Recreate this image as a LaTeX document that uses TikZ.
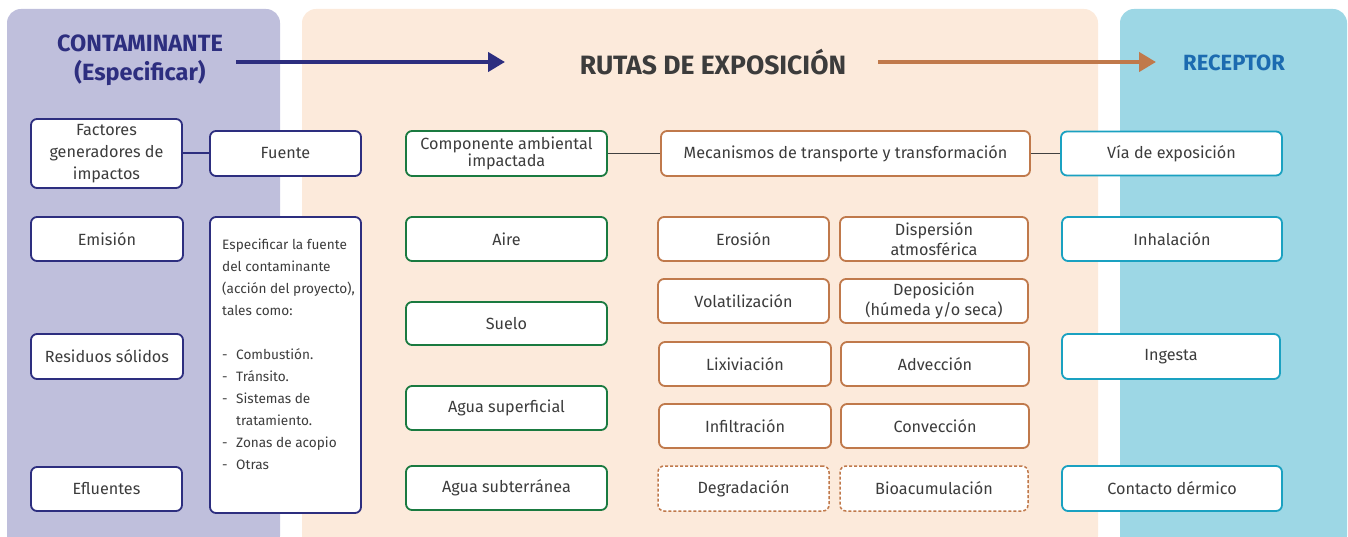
\documentclass[tikz,border=0pt]{standalone}
\usepackage{fontspec}
\setmainfont{Fira Sans}
\usetikzlibrary{arrows.meta}
\definecolor{lav}{HTML}{BFBFDC}
\definecolor{peach}{HTML}{FCEADB}
\definecolor{sky}{HTML}{9DD7E5}
\definecolor{navy}{HTML}{2D2E7F}
\definecolor{grn}{HTML}{1A7A40}
\definecolor{brn}{HTML}{C0794B}
\definecolor{teal}{HTML}{1AA1C1}
\definecolor{txt}{HTML}{3C3C3C}
\definecolor{recblue}{HTML}{1C6BB0}
\definecolor{conn}{HTML}{404040}
\tikzset{
  nbox/.style={draw, rounded corners=6pt, line width=1.8pt, fill=white, align=center,
    text=txt, font=\fontsize{16.2}{20}\selectfont, inner sep=0pt},
  navybox/.style={nbox, draw=navy},
  grnbox/.style={nbox, draw=grn},
  brnbox/.style={nbox, draw=brn},
  brndash/.style={nbox, draw=brn, line width=1.5pt, dash pattern=on 3pt off 2pt},
  tealbox/.style={nbox, draw=teal},
  title/.style={font=\fontsize{23.5}{29}\selectfont\bfseries, align=center, inner sep=0pt},
  bigarrow/.style={line width=4.2pt, -{Triangle[length=17pt,width=19pt]}},
}
\begin{document}
\begin{tikzpicture}[x=1pt,y=-1pt]
\useasboundingbox (0,0) rectangle (1348,537);
\clip (0,0) rectangle (1348,537);
% panels
\fill[lav, rounded corners=14pt] (7,9) rectangle (280,550);
\fill[peach, rounded corners=14pt] (302,9) rectangle (1098,550);
\fill[sky, rounded corners=14pt] (1120,9) rectangle (1347,550);
% titles
\node[title, text=navy] (cont) at (140,60) {CONTAMINANTE\\(Especificar)};
\node[title, text=txt, font=\fontsize{26.5}{30}\selectfont\bfseries] (rutas) at (713,62) {RUTAS DE EXPOSICIÓN};
\node[title, text=recblue, font=\fontsize{22}{26}\selectfont\bfseries] (rec) at (1234,63) {RECEPTOR};
\coordinate (a1s) at (236,62);
\coordinate (a1e) at (505,62);
\coordinate (a2s) at (878,62);
\coordinate (a2e) at (1156,62);
\draw[bigarrow, navy] (a1s) -- (a1e);
\draw[bigarrow, brn] (a2s) -- (a2e);
% left column
\node[navybox, minimum width=151pt, minimum height=69pt, font=\fontsize{16.2}{22}\selectfont] (fact) at (106.5,153.5) {Factores\\generadores de\\impactos};
\node[navybox, minimum width=151pt, minimum height=45pt] (fuente) at (285.5,153.5) {Fuente};
\node[navybox, minimum width=152pt, minimum height=44pt] (emi) at (107,239) {Emisión};
\node[navybox, minimum width=152pt, minimum height=45pt] (res) at (107,356.5) {Residuos sólidos};
\node[navybox, minimum width=151pt, minimum height=44pt] (efl) at (106.5,489) {Efluentes};
\node[navybox, minimum width=151pt, minimum height=296pt] (esp) at (285.5,365) {};
\node[anchor=north west, align=left, inner sep=0pt, text=txt, font=\fontsize{13.6}{22}\selectfont] (esptxt) at (222,239)
 {Especificar la fuente\\
  del contaminante\\
  (acción del proyecto),\\
  tales como:\\[22pt]
  \makebox[14pt][l]{-}Combustión.\\
  \makebox[14pt][l]{-}Tránsito.\\
  \makebox[14pt][l]{-}Sistemas de\\
  \hspace*{14pt}tratamiento.\\
  \makebox[14pt][l]{-}Zonas de acopio\\
  \makebox[14pt][l]{-}Otras};
% middle column
\node[grnbox, minimum width=201pt, minimum height=45pt] (comp) at (506.5,153.5) {Componente ambiental\\[-3pt]impactada};
\node[grnbox, minimum width=201pt, minimum height=44pt] (aire) at (506.5,239) {Aire};
\node[grnbox, minimum width=201pt, minimum height=43pt] (suelo) at (506.5,323.5) {Suelo};
\node[grnbox, minimum width=201pt, minimum height=44pt] (asup) at (506.5,408) {Agua superficial};
\node[grnbox, minimum width=201pt, minimum height=44pt] (asub) at (506.5,488) {Agua subterránea};
% mechanisms
\node[brnbox, minimum width=369pt, minimum height=45pt] (mec) at (845.5,153.5) {Mecanismos de transporte y transformación};
\node[brnbox, minimum width=171pt, minimum height=44pt] (ero) at (743.5,239) {Erosión};
\node[brnbox, minimum width=188pt, minimum height=44pt] (disp) at (934,239) {Dispersión\\atmosférica};
\node[brnbox, minimum width=171pt, minimum height=44pt] (vol) at (743.5,301) {Volatilización};
\node[brnbox, minimum width=188pt, minimum height=44pt] (dep) at (934,301) {Deposición\\(húmeda y/o seca)};
\node[brnbox, minimum width=172pt, minimum height=44pt] (lix) at (745,364) {Lixiviación};
\node[brnbox, minimum width=188pt, minimum height=44pt] (adv) at (935,364) {Advección};
\node[brnbox, minimum width=172pt, minimum height=44pt] (inf) at (745,426) {Infiltración};
\node[brnbox, minimum width=188pt, minimum height=44pt] (conv) at (935,426) {Convección};
\node[brndash, minimum width=171pt, minimum height=45pt] (deg) at (743.5,488.5) {Degradación};
\node[brndash, minimum width=188pt, minimum height=45pt] (bio) at (934,488.5) {Bioacumulación};
% right column
\node[tealbox, minimum width=221pt, minimum height=44pt] (via) at (1171.5,153.5) {Vía de exposición};
\node[tealbox, minimum width=220pt, minimum height=44pt] (inh) at (1172,239) {Inhalación};
\node[tealbox, minimum width=218pt, minimum height=45pt] (ing) at (1171,356.5) {Ingesta};
\node[tealbox, minimum width=220pt, minimum height=45pt] (der) at (1172,488.5) {Contacto dérmico};
% connectors
\draw[navy, line width=2pt] (fact) -- (fuente);
\draw[conn, line width=1.6pt] (comp) -- (mec);
\draw[conn, line width=1.6pt] (mec) -- (via);
\end{tikzpicture}
\end{document}
